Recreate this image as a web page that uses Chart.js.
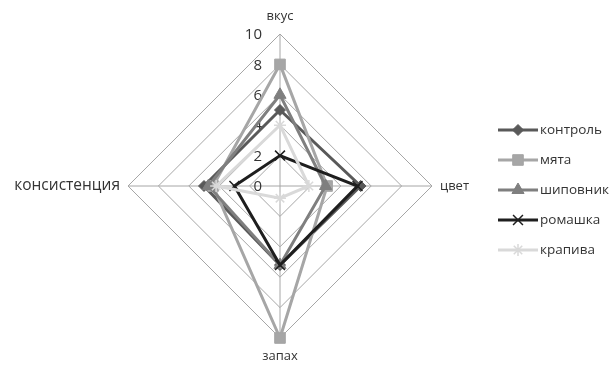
<!DOCTYPE html>
<html>
<head>
<meta charset="utf-8">
<script src="https://cdn.jsdelivr.net/npm/chart.js@4/dist/chart.umd.min.js"></script>
<style>
  html, body { margin: 0; padding: 0; background: #ffffff; overflow: hidden; }
  #wrap { position: relative; width: 616px; height: 365px; overflow: hidden; }
  /* the canvas is wider than the page so the long left label has room */
  #c { position: absolute; left: -42px; top: 0; }
</style>
</head>
<body>
<div id="wrap"><canvas id="c" width="700" height="365"></canvas></div>
<script>
// Оценка органолептических показателей
const categories = ['вкус', 'цвет', 'запах', 'консистенция'];
const tickValues = [0, 2, 4, 6, 8, 10];

const seriesNames = ['контроль', 'мята', 'шиповник', 'ромашка', 'крапива'];
const kontrol   = [5, 5.3, 5.2, 5];
const myata     = [8, 3.1, 10, 4.4];
const shipovnik = [6, 3, 5.2, 4.7];
const romashka  = [2, 5.1, 5.2, 3];
const krapiva   = [4, 1.9, 0.8, 4.2];
const seriesValues = [kontrol, myata, shipovnik, romashka, krapiva];

const seriesColors = ['#595959', '#a6a6a6', '#7f7f7f', '#1e1e1e', '#d9d9d9'];
const seriesMarkers = ['rectRot', 'rect', 'triangle', 'crossRot', 'star'];
const markerRadius = [5.5, 7.5, 7, 7, 6];

const OFFSET_X = 42;            // canvas shift to the left, px
const FONT = '"Open Sans", "Noto Sans", sans-serif';
const TEXT = '#333333';

const datasets = seriesNames.map((name, i) => ({
  label: name,
  data: seriesValues[i],
  borderColor: seriesColors[i],
  backgroundColor: seriesColors[i],
  borderWidth: 3,
  fill: false,
  tension: 0,
  pointStyle: seriesMarkers[i],
  pointRadius: markerRadius[i],
  pointHoverRadius: markerRadius[i],
  pointBackgroundColor: seriesColors[i],
  pointBorderColor: seriesColors[i],
  pointBorderWidth: (seriesMarkers[i] === 'crossRot' || seriesMarkers[i] === 'star') ? 1.5 : 1,
  order: seriesNames.length - i   // later series are painted on top
}));

// scale numbers, right-aligned just left of the vertical axis
const tickLabelPlugin = {
  id: 'tickLabels',
  beforeDatasetsDraw(chart) {
    const s = chart.scales.r;
    const ctx = chart.ctx;
    ctx.save();
    ctx.font = '15px ' + FONT;
    ctx.fillStyle = TEXT;
    ctx.textAlign = 'right';
    ctx.textBaseline = 'middle';
    s.ticks.forEach(t => {
      const d = s.getDistanceFromCenterForValue(t.value);
      ctx.fillText(t.label, s.xCenter - 18, s.yCenter - d + 1);
    });
    ctx.restore();
  }
};

// legend: line sample with marker, then the series name
const legendPlugin = {
  id: 'sideLegend',
  afterDraw(chart) {
    const ctx = chart.ctx;
    const x0 = 498 + OFFSET_X, x1 = 538 + OFFSET_X;
    ctx.save();
    chart.data.datasets.forEach((ds, i) => {
      const y = 130 + i * 30;
      ctx.strokeStyle = ds.borderColor;
      ctx.lineWidth = 3;
      ctx.beginPath();
      ctx.moveTo(x0, y);
      ctx.lineTo(x1, y);
      ctx.stroke();
      ctx.fillStyle = ds.pointBackgroundColor;
      ctx.strokeStyle = ds.pointBorderColor;
      ctx.lineWidth = ds.pointBorderWidth;
      Chart.helpers.drawPoint(ctx, {
        pointStyle: ds.pointStyle,
        radius: ds.pointRadius,
        borderWidth: ds.pointBorderWidth,
        rotation: 0
      }, (x0 + x1) / 2, y);
      ctx.font = '13.5px ' + FONT;
      ctx.fillStyle = TEXT;
      ctx.textAlign = 'left';
      ctx.textBaseline = 'middle';
      ctx.fillText(ds.label, x1 + 2, y);
    });
    ctx.restore();
  }
};

new Chart(document.getElementById('c'), {
  type: 'radar',
  data: { labels: categories, datasets },
  options: {
    responsive: false,
    animation: false,
    devicePixelRatio: 1,
    layout: { autoPadding: false, padding: { left: 0, right: 56, top: 8.4, bottom: 1.3 } },
    plugins: { legend: { display: false }, tooltip: { enabled: false } },
    elements: { line: { borderJoinStyle: 'miter' } },
    scales: {
      r: {
        min: tickValues[0],
        max: tickValues[tickValues.length - 1],
        afterBuildTicks(scale) { scale.ticks = tickValues.map(v => ({ value: v })); },
        ticks: { display: false, stepSize: 2, callback: v => String(v) },
        grid: { circular: false, color: '#a6a6a6', lineWidth: 1 },
        angleLines: { display: true, color: '#a6a6a6', lineWidth: 1 },
        pointLabels: {
          color: TEXT,
          font: ctx => ({ family: FONT, size: ctx.index === 3 ? 15.5 : 13, lineHeight: 1.2 }),
          padding: ctx => (ctx.index % 2 === 0 ? 10 : 8)
        }
      }
    }
  },
  plugins: [tickLabelPlugin, legendPlugin]
});
</script>
</body>
</html>
